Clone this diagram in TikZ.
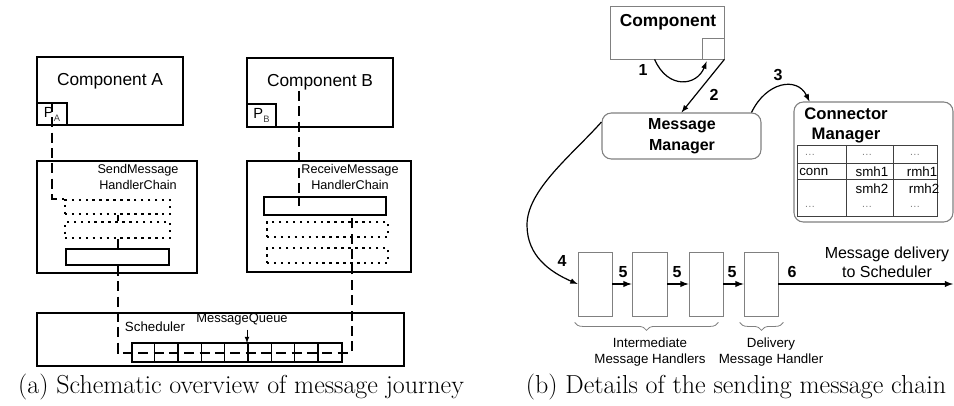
\documentclass[tikz,border=0pt]{standalone}
\usepackage{fontspec}
\setsansfont{Liberation Sans}
\usetikzlibrary{decorations.pathreplacing}
\usetikzlibrary{fit}
\usetikzlibrary{calc}

\newcommand\sfsize[2]{\sffamily\fontsize{#1}{#2}\selectfont}

\tikzset{
    pbox/.style={draw, line width=1.4pt, inner sep=0pt},
    dbox/.style={draw, line width=1.5pt, dash pattern=on 1.8pt off 3.4pt, inner sep=0pt},
    jpath/.style={line width=1.5pt, dash pattern=on 7.5pt off 4pt},
    gbox/.style={draw=gray, line width=0.6pt, inner sep=0pt},
    rbox/.style={draw=gray, line width=0.8pt, rounded corners=7pt, inner sep=0pt},
    qline/.style={line width=0.9pt},
    tline/.style={draw=black!75, line width=0.5pt},
    flow/.style={->, line width=1.1pt},
    num/.style={font=\sfsize{12}{14}\bfseries, inner sep=0pt},
    dots/.style={font=\sfsize{8}{10}, text=gray, inner sep=0pt},
    brc/.style={draw=gray, line width=0.6pt,
                decoration={brace, mirror, amplitude=6pt}, decorate},
    captxt/.style={font=\fontsize{19.5}{22}\selectfont, inner sep=0pt},
}

\begin{document}
\begin{tikzpicture}[
        x=0.75pt, y=-0.75pt, >=latex,
    ]
    \useasboundingbox (0,0) rectangle (954,406);

    % (a) journey of a message
    \node[pbox, fit={(37,57) (183,125)}] (compA) {};
    \node[pbox, fit={(37,103) (67,125)}] (portA) {};
    \node[font=\sfsize{13}{15}] (compAtxt) at (110,81) {Component A};
    \node[font=\sfsize{11}{13}] (portAtxt) at (portA) {P\raisebox{-3pt}{\color{darkgray}\sfsize{7}{8}A}};

    \node[pbox, fit={(247,58) (393,127)}] (compB) {};
    \node[pbox, fit={(247,104) (276,127)}] (portB) {};
    \node[font=\sfsize{13}{15}] (compBtxt) at (320,82) {Component B};
    \node[font=\sfsize{11}{13}] (portBtxt) at (portB) {P\raisebox{-3pt}{\color{darkgray}\sfsize{7}{8}B}};

    \node[pbox, fit={(37,161) (197,273)}] (send) {};
    \node[font=\sfsize{9.5}{11.5}, align=center] (sendtxt) at (138,177) {SendMessage\\HandlerChain};
    \node[dbox, fit={(65,200) (170,214)}] (sendD1) {};
    \node[dbox, fit={(65,222) (170,238)}] (sendD2) {};
    \node[pbox, fit={(66,249) (169,265)}] (sendS) {};

    \node[pbox, fit={(247,161) (411,272)}] (recv) {};
    \node[font=\sfsize{9.5}{11.5}, align=center] (recvtxt) at (350,177) {ReceiveMessage\\HandlerChain};
    \node[pbox, fit={(264,197) (386,215)}] (recvS) {};
    \node[dbox, fit={(267,222) (388,237)}] (recvD1) {};
    \node[dbox, fit={(267,248) (388,263)}] (recvD2) {};

    \node[pbox, fit={(37,313) (404,366)}] (sched) {};
    \node[font=\sfsize{10}{12}] (schedtxt) at (155,327) {Scheduler};
    \node[font=\sfsize{9.7}{12}] (mqtxt) at (242,319) {MessageQueue};
    \node[draw, qline, inner sep=0pt, fit={(132,343) (342,362)}] (queue) {};
    \foreach \i in {1,...,8}
        \draw[qline] ($(queue.north west)+(\i*23.33,0)$) -- ($(queue.south west)+(\i*23.33,0)$);
    \coordinate (mqtip) at (247,343);
    \draw[->, line width=0.6pt] (mqtxt.south -| mqtip) -- (mqtip);

    \draw[jpath] (portA.north) |- (sendD1.north west);
    \draw[jpath] (sendD1.south) -- (sendD2.north);
    \draw[jpath] (sendD2.south) -- (sendS.north);
    \coordinate (qturn) at ($(queue.east)+(9,0)$);
    \draw[jpath] (sendS.south) |- (queue.west) -- (qturn) -- (qturn |- recvS.south);
    \coordinate (btop) at (299,91);
    \draw[jpath] (btop) -- (btop |- recvS.center);

    % (b) sending chain
    \node[gbox, fit={(610,6) (724,59)}] (comp) {};
    \node[gbox, fit={(702,38) (724,59)}] (port) {};
    \node[font=\sfsize{13}{15}\bfseries] (comptxt) at (668,22) {Component};

    \node[rbox, fit={(602,113) (761,159)}] (mm) {};
    \node[font=\sfsize{12}{15.5}\bfseries, align=center] (mmtxt) at (682,136) {Message\\Manager};

    \node[rbox, fit={(794,102) (953,222)}] (cm) {};
    \node[font=\sfsize{12.5}{15}\bfseries, align=center] (cmtxt) at (846,125) {Connector\\Manager};

    % connector table
    \node[tline, inner sep=0pt, fit={(797,145) (937,216)}] (tab) {};
    \draw[tline] (846,145) -- (846,216);
    \draw[tline] (893,145) -- (893,216);
    \draw[tline] (797,163) -- (937,163);
    \draw[tline] (797,179) -- (937,179);
    \foreach \x in {810,867,915} {
        \node[dots] at (\x,155) {\dots};
        \node[dots] at (\x,207) {\dots};
    }
    \node[font=\sfsize{10}{12}, anchor=west, inner sep=0pt] (conn) at (799,172) {conn};
    \node[font=\sfsize{10}{12}, inner sep=0pt] (smh1) at (872,172) {smh1};
    \node[font=\sfsize{10}{12}, inner sep=0pt] (rmh1) at (922,172) {rmh1};
    \node[font=\sfsize{10}{12}, inner sep=0pt] (smh2) at (872,189) {smh2};
    \node[font=\sfsize{10}{12}, inner sep=0pt] (rmh2) at (924,189) {rmh2};

    % handlers
    \foreach \n/\l/\r in {h1/578/612, h2/632/667, h3/689/723, h4/744/778}
        \node[gbox, fit={(\l,252) (\r,316)}] (\n) {};
    \foreach \a/\b in {h1/h2, h2/h3, h3/h4}
        \draw[flow] (\a.east) -- (\b.west);
    \coordinate (toSched) at (953,284);
    \draw[flow] (h4.east) -- (toSched);

    \draw[->, line width=0.9pt] ($(comp.south west)+(45,0)$)
        .. controls (668,90) and (697,86) .. ($(port.south west)+(5,2)$);
    \draw[->, line width=0.9pt] (port.south east) -- (mm.north);
    \draw[->, line width=0.9pt] ($(mm.north east)+(-10,0)$)
        .. controls (766,82) and (797,76) .. ($(cm.north west)+(16,0)$);
    \draw[->, line width=0.9pt] ($(mm.west)+(0,-14)$)
        .. controls (572,155) and (527,190) .. (527,225)
        .. controls (527,256) and (550,272) .. (h1.west);

    \node[num] (n1) at (643,70) {1};
    \node[num] (n2) at (714,95) {2};
    \node[num] (n3) at (778,75) {3};
    \node[num] (n4) at (562,261) {4};
    \node[num] (n5a) at (623,272) {5};
    \node[num] (n5b) at (677,272) {5};
    \node[num] (n5c) at (732,272) {5};
    \node[num] (n6) at (792,272) {6};
    \node[font=\sfsize{12}{14.5}, align=center] (deliv) at (887,262) {Message delivery\\to Scheduler};

    \draw[brc] ($(h1.south west)+(-3,6)$) -- ($(h3.south east)+(-5,6)$);
    \draw[brc] ($(h4.south west)+(-4,6)$) -- ($(h4.south east)+(5,6)$);
    \node[font=\sfsize{10}{12}, align=center] (inter) at (650,352) {Intermediate\\Message Handlers};
    \node[font=\sfsize{10}{12}, align=center] (deliver) at (771,352) {Delivery\\Message Handler};

    \node[captxt, anchor=base] (capa) at (241,393) {(a) Schematic overview of message journey};
    \node[captxt, anchor=base] (capb) at (736,393) {(b) Details of the sending message chain};

    \end{tikzpicture}
\end{document}
